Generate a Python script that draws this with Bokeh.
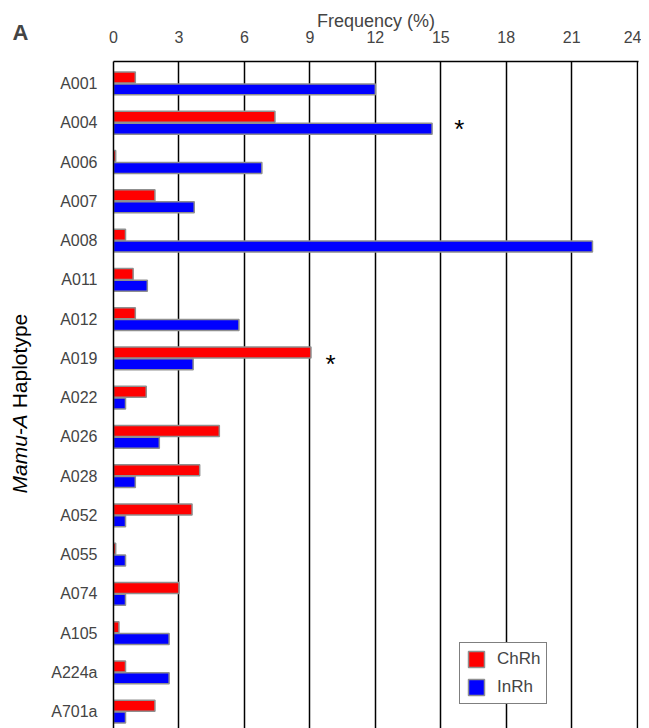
import math
from bokeh.plotting import figure
from bokeh.layouts import row
from bokeh.models import (ColumnDataSource, Range1d, FixedTicker, Legend, LegendItem)
from bokeh.core.properties import value
from bokeh.embed import file_html
from bokeh.resources import INLINE

# ---- data ----
haplotypes = ["A001", "A004", "A006", "A007", "A008", "A011", "A012", "A019", "A022",
              "A026", "A028", "A052", "A055", "A074", "A105", "A224a", "A701a"]
chrh = [1.0, 7.4, 0.1, 1.9, 0.55, 0.9, 1.0, 9.05, 1.5, 4.85, 3.95, 3.6, 0.1, 3.0, 0.25, 0.55, 1.9]
inrh = [12.0, 14.6, 6.8, 3.7, 21.95, 1.55, 5.75, 3.65, 0.55, 2.1, 1.0, 0.55, 0.55, 0.55, 2.55, 2.55, 0.55]
x_ticks = [0, 3, 6, 9, 12, 15, 18, 21, 24]
significant = ["A004", "A019"]
star_x = [15.85, 9.95]

FONT = "Liberation Sans"
H = 728
TOP = 61           # frame top (px)
LW = 40            # width of the side strip holding the panel letter and the y title
FH = H - TOP       # frame height
n = len(haplotypes)
pos = [n - 1 - i for i in range(n)]  # A001 on top

src = ColumnDataSource(dict(
    cat=haplotypes, pos=pos,
    red_y=[p_ + 0.15 for p_ in pos], blue_y=[p_ - 0.15 for p_ in pos],
    chrh=chrh, inrh=inrh))

star_pos = [pos[haplotypes.index(h)] for h in significant]
star_src = ColumnDataSource(dict(x=star_x, y=star_pos, t=["*"] * len(significant)))

# ---- side strip: panel letter (as title) + y-axis title ----
side = figure(width=LW, height=H, output_backend="svg", toolbar_location=None,
              x_range=Range1d(0, LW), y_range=Range1d(0, FH),
              min_border_left=0, min_border_right=0, min_border_bottom=0, min_border_top=TOP)
side.axis.visible = False
side.grid.visible = False
side.outline_line_color = None
side.border_fill_color = "white"
side.background_fill_color = "white"
side.title.text = "A"
side.title.text_font = FONT
side.title.text_font_size = "22px"
side.title.text_font_style = "bold"
side.title.align = "left"
side.title.offset = 12
side.title.standoff = 33

fs = 21
mamu_w = (0.833 + 0.556 + 0.833 + 0.556 + 0.333 + 0.667 + 0.278) * fs
y_start = H - 493   # bottom end of the title, in px above the frame bottom
side.text(x=[19], y=[y_start], text=["Mamu-A"], angle=math.pi / 2,
          text_font=value(FONT), text_font_size=f"{fs}px", text_font_style="italic",
          text_align="left", text_baseline="middle")
side.text(x=[19], y=[y_start + mamu_w], text=["Haplotype"], angle=math.pi / 2,
          text_font=value(FONT), text_font_size=f"{fs}px",
          text_align="left", text_baseline="middle")

# ---- main chart ----
p = figure(width=641 - LW, height=H, output_backend="svg", toolbar_location=None,
           x_axis_location="above",
           x_range=Range1d(0, 24.06), y_range=Range1d(-0.43, n - 1 + 0.56),
           min_border_left=113 - LW, min_border_right=3, min_border_top=TOP, min_border_bottom=0)
p.outline_line_color = None
p.background_fill_color = "white"
p.border_fill_color = "white"

r_red = p.hbar(y="red_y", right="chrh", left=0, height=0.28, source=src,
               fill_color="#ff0000", line_color="#8f8f8f", line_width=1.5)
r_blue = p.hbar(y="blue_y", right="inrh", left=0, height=0.28, source=src,
                fill_color="#0000ff", line_color="#8f8f8f", line_width=1.5)

p.text(x="x", y="y", text="t", source=star_src, text_font=value(FONT),
       text_font_size="26px", text_align="center", text_baseline="middle",
       y_offset=6, text_color="black")

# x axis (top)
xa = p.xaxis[0]
xa.ticker = FixedTicker(ticks=x_ticks)
xa.major_tick_line_color = None
xa.minor_tick_line_color = None
xa.axis_line_color = "black"
xa.axis_line_width = 1.5
xa.major_label_text_font = FONT
xa.major_label_text_font_size = "16px"
xa.major_label_standoff = 13
xa.axis_label = "Frequency (%)"
xa.axis_label_text_font = FONT
xa.axis_label_text_font_size = "18px"
xa.axis_label_text_font_style = "normal"
xa.axis_label_standoff = -3

# y axis
ya = p.yaxis[0]
ya.ticker = FixedTicker(ticks=pos)
ya.major_label_overrides = {p_: c for p_, c in zip(pos, haplotypes)}
ya.major_tick_line_color = None
ya.minor_tick_line_color = None
ya.axis_line_color = "black"
ya.axis_line_width = 1.5
ya.major_label_text_font = FONT
ya.major_label_text_font_size = "16px"
ya.major_label_standoff = 10

p.xgrid.ticker = FixedTicker(ticks=x_ticks)
p.xgrid.grid_line_color = "black"
p.xgrid.grid_line_width = 1.5
p.ygrid.grid_line_color = None

# legend
legend = Legend(items=[LegendItem(label="ChRh", renderers=[r_red]),
                       LegendItem(label="InRh", renderers=[r_blue])],
                location=(346, 24))
legend.label_text_font = FONT
legend.label_text_font_size = "17px"
legend.glyph_width = 20
legend.glyph_height = 20
legend.label_standoff = 11
legend.padding = 6
legend.spacing = 8
legend.margin = 0
legend.border_line_color = "black"
legend.border_line_width = 1
legend.background_fill_alpha = 1
p.add_layout(legend)

layout = row(side, p, spacing=0)
open("out.html", "w").write(file_html(layout, INLINE))
